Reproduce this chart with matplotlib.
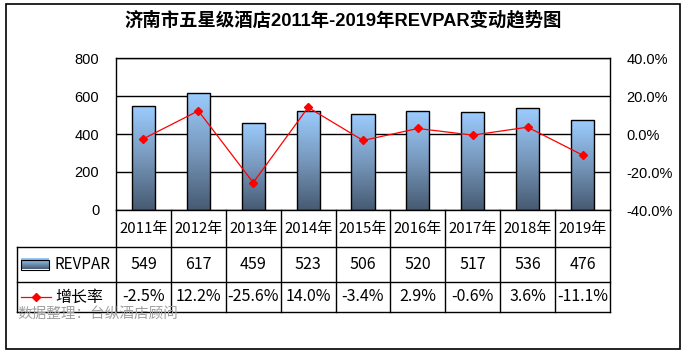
import matplotlib
matplotlib.use("Agg")
import matplotlib.pyplot as plt
import numpy as np
from matplotlib.patches import Rectangle
from matplotlib.lines import Line2D
from matplotlib.colors import LinearSegmentedColormap
import matplotlib.transforms as mtransforms

years = ["2011年", "2012年", "2013年", "2014年", "2015年", "2016年", "2017年", "2018年", "2019年"]
revpar = [549, 617, 459, 523, 506, 520, 517, 536, 476]
growth = [-2.5, 12.2, -25.6, 14.0, -3.4, 2.9, -0.6, 3.6, -11.1]
left_ticks = [0, 200, 400, 600, 800]
right_ticks = [-40, -20, 0, 20, 40]
title = "济南市五星级酒店2011年-2019年REVPAR变动趋势图"
source = "数据整理：台纵酒店顾问"

W, H = 685, 353
fig = plt.figure(figsize=(W / 100, H / 100), dpi=100)
fam = ["Liberation Sans", "Noto Sans CJK SC"]
tfam = ["Noto Sans CJK SC", "DejaVu Sans"]

def fx(px): return px / W
def fy(py): return 1 - py / H

# outer border
fig.patches.append(Rectangle((fx(6), fy(349)), fx(680) - fx(6), fy(4) - fy(349),
                             transform=fig.transFigure, fill=False, ec="black", lw=1.2))

L, R, T, B = 116, 610, 58, 210
ax = fig.add_axes([fx(L), fy(B), fx(R) - fx(L), fy(T) - fy(B)])
ax2 = ax.twinx()

x = np.arange(len(years))
cmap = LinearSegmentedColormap.from_list("g", ["#465a72", "#7898bc", "#9ccdff"])
bars = ax.bar(x, revpar, width=0.42, color="none", edgecolor="black", linewidth=1.0, zorder=3)
grad = np.linspace(0, 1, 256).reshape(-1, 1)
for b in bars:
    bx, by, bw, bh = b.get_x(), b.get_y(), b.get_width(), b.get_height()
    im = ax.imshow(grad, cmap=cmap, origin="lower", aspect="auto",
                   extent=[bx, bx + bw, by, by + bh], zorder=2)
    im.set_clip_path(b)

ax.set_xlim(-0.5, len(years) - 0.5)
ax.set_ylim(0, 800)
ax.set_yticks(left_ticks)
ax.set_xticks([])
for t in left_ticks:
    ax.axhline(t, color="black", lw=1.0, zorder=1)
for s in ax.spines.values():
    s.set_color("black"); s.set_linewidth(1.0)
ax.tick_params(axis="y", length=0, pad=12, labelsize=10.5)
for lab in ax.get_yticklabels():
    lab.set_family(fam)

ax2.plot(x, growth, color="red", lw=0.9, marker="D", markersize=4.5, zorder=5)
ax2.set_ylim(-40, 40)
ax2.set_yticks(right_ticks)
ax2.set_yticklabels([f"{v:.1f}%" for v in right_ticks])
ax2.tick_params(axis="y", length=0, pad=12, labelsize=10.5)
for lab in ax2.get_yticklabels():
    lab.set_family(fam)
for s in ax2.spines.values():
    s.set_visible(False)

# table below the axes
bt = mtransforms.blended_transform_factory(ax.transData, ax.transAxes)
hpx = B - T
def ay(py): return (B - py) / hpx
def axx(px): return (px - L) / (R - L)

cat_y, top_y, mid_y, bot_y = 229, 247, 282, 312
lw = 1.0
for i in range(len(years) + 1):
    xv = i - 0.5
    ax.add_line(Line2D([xv, xv], [ay(B), ay(bot_y)], transform=bt, color="black", lw=lw, clip_on=False))
for py in (top_y, mid_y, bot_y):
    ax.add_line(Line2D([axx(17), 1], [ay(py), ay(py)], transform=ax.transAxes, color="black", lw=lw, clip_on=False))
ax.add_line(Line2D([axx(17), axx(17)], [ay(top_y), ay(bot_y)], transform=ax.transAxes, color="black", lw=lw, clip_on=False))

for i, (yr, v, g) in enumerate(zip(years, revpar, growth)):
    ax.text(i, ay(cat_y), yr, transform=bt, ha="center", va="center", fontsize=10.8, family=tfam)
    ax.text(i, ay((top_y + mid_y) / 2), f"{v}", transform=bt, ha="center", va="center", fontsize=11.5, family=tfam)
    ax.text(i, ay((mid_y + bot_y) / 2), f"{g:.1f}%", transform=bt, ha="center", va="center", fontsize=11.5, family=tfam)

# legend keys
r1 = (top_y + mid_y) / 2
r2 = (mid_y + bot_y) / 2
key = ax.imshow(grad, cmap=cmap, origin="lower", aspect="auto",
                extent=[axx(21), axx(49), ay(r1 + 5), ay(r1 - 5)],
                transform=ax.transAxes, zorder=4)
key.set_clip_on(False)
ax.add_patch(Rectangle((axx(21), ay(r1 + 5)), axx(49) - axx(21), ay(r1 - 5) - ay(r1 + 5),
                       transform=ax.transAxes, fill=False, ec="black", lw=0.8, clip_on=False, zorder=5))
ax.text(axx(55), ay(r1), "REVPAR", transform=ax.transAxes, ha="left", va="center", fontsize=11, family=tfam)
ax.add_line(Line2D([axx(21), axx(51)], [ay(r2), ay(r2)], transform=ax.transAxes, color="red", lw=0.9, clip_on=False))
ax.add_line(Line2D([axx(36)], [ay(r2)], transform=ax.transAxes, color="red", marker="D", markersize=4.5, clip_on=False))
ax.text(axx(55), ay(r2), "增长率", transform=ax.transAxes, ha="left", va="center", fontsize=11.5, family=tfam)

fig.text(fx(343), fy(20), title, ha="center", va="center", fontsize=13.2, fontweight="bold", family=fam)
fig.text(fx(17), fy(314), source, ha="left", va="center", fontsize=10.5, color="#a0a0a0", family=tfam)

fig.savefig("out.png", dpi=100)
